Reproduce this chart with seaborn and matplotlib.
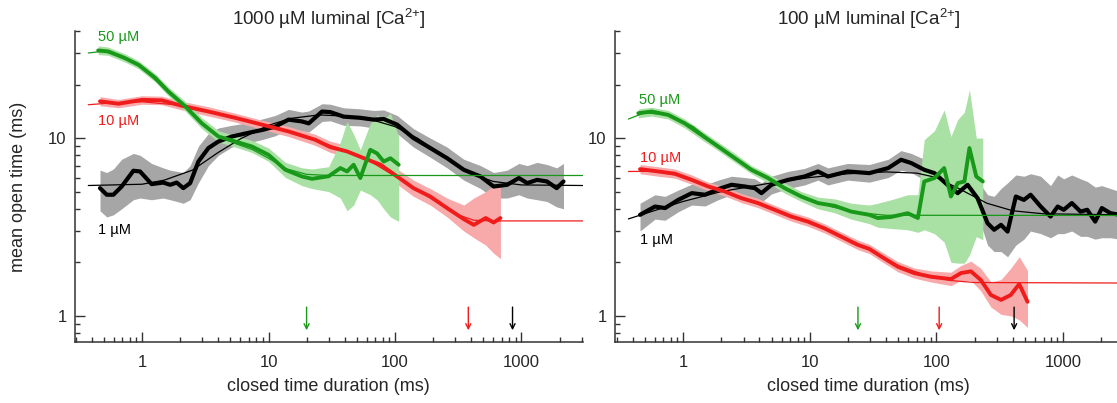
import numpy as np
import pandas as pd
import seaborn as sns
import matplotlib.pyplot as plt
from matplotlib.ticker import FixedLocator, LogLocator, FuncFormatter, NullFormatter

sns.set_style('ticks')
plt.rcParams['font.family'] = ['Liberation Sans', 'DejaVu Sans']
plt.rcParams['mathtext.fontset'] = 'custom'
plt.rcParams['mathtext.rm'] = 'Liberation Sans'
plt.rcParams['mathtext.it'] = 'Liberation Sans:italic'

GREEN = '#18991a'
RED = '#f01c1c'
BLACK = '#000000'
GREEN_BAND = '#a9e0a3'
RED_BAND = '#f8aaaa'
GRAY_BAND = '#a6a6a6'

# ---- 1000 uM luminal Ca (left panel) ----
l_green_x = [0.45, 0.54, 0.73, 0.94, 1.27, 1.61, 2.19, 2.97, 4.02, 5.45, 7.38, 10, 13.6, 18.4, 22.1,
             29.9, 37, 41.8, 47.1, 53.2, 63.8, 72.1, 81.4, 92, 107]
l_green_y = [31.1, 30.7, 28.2, 25.8, 21.8, 18.3, 15.1, 12.1, 10.2, 9.57, 8.97, 8.05, 6.63, 6.08, 5.9,
             6.1, 6.78, 6.49, 7.08, 5.96, 8.59, 8.2, 7.38, 7.7, 7.08]
l_green_lo = [29.5, 29.2, 26.8, 24.5, 20.7, 17.3, 14.2, 11.3, 9.5, 8.9, 8.3, 7.4, 6.0, 5.4, 5.2,
              5.0, 4.6, 3.9, 4.2, 5.1, 4.8, 4.5, 4.0, 3.6, 3.4]
l_green_hi = [33.0, 32.5, 29.8, 27.2, 23.0, 19.4, 16.1, 13.0, 11.0, 10.3, 9.7, 8.8, 7.3, 6.8, 6.7,
              6.9, 9.5, 12.4, 10.5, 8.6, 12.1, 13.5, 12.8, 13.8, 10.2]
l_green_fit_x = [0.376, 0.5, 0.7, 1.0, 1.5, 2.2, 3, 4, 5.5, 7.5, 10, 14, 20, 30, 3050]
l_green_fit_y = [30.1, 30.8, 28.5, 25.0, 19.0, 15.0, 12.0, 10.2, 9.3, 8.6, 7.7, 6.7, 6.25, 6.16, 6.16]

l_red_x = [0.465, 0.65, 1.0, 1.43, 2.06, 3.35, 5.45, 8.87, 14.4, 23.4, 30.8, 41.8, 56.6, 76.9, 104,
           140, 190, 258, 350, 420, 522, 603, 682]
l_red_y = [16.1, 15.6, 16.4, 16.3, 15.2, 14.1, 13.0, 11.9, 10.9, 9.78, 8.9, 8.41, 7.71, 7.08, 6.08,
           5.23, 4.69, 4.04, 3.5, 3.25, 3.55, 3.35, 3.55]
l_red_lo = [15.2, 14.8, 15.5, 15.4, 14.4, 13.3, 12.3, 11.2, 10.2, 9.1, 8.3, 7.8, 7.1, 6.5, 5.5,
            4.7, 4.2, 3.6, 3.0, 2.75, 2.5, 2.25, 2.1]
l_red_hi = [17.1, 16.5, 17.3, 17.2, 16.1, 15.0, 13.8, 12.6, 11.6, 10.5, 9.6, 9.1, 8.4, 7.7, 6.7,
            5.8, 5.2, 4.6, 4.2, 4.6, 5.0, 5.4, 5.6]
l_red_fit_x = [0.376, 0.6, 1, 2, 3.3, 5.5, 9, 14, 23, 40, 60, 100, 150, 200, 300, 420, 600, 3050]
l_red_fit_y = [15.4, 15.8, 16.0, 15.3, 14.2, 13.0, 11.9, 10.9, 9.8, 8.5, 7.6, 6.1, 5.1, 4.5, 3.75,
               3.45, 3.42, 3.42]

l_black_x = [0.465, 0.526, 0.593, 0.69, 0.854, 0.964, 1.19, 1.47, 1.67, 1.88, 2.12, 2.4, 2.79, 3.35,
             4.02, 5.12, 6.93, 8.87, 11.3, 14.4, 18.4, 20.8, 26.5, 30.8, 39.3, 53.2, 67.7, 81.4, 104,
             140, 190, 258, 350, 475, 603, 770, 955, 1110, 1330, 1590, 1900, 2150]
l_black_y = [5.23, 4.8, 4.8, 5.34, 6.55, 6.49, 5.51, 5.62, 5.46, 5.62, 5.23, 5.58, 7.38, 8.79,
             9.57, 10.2, 10.7, 11.1, 11.6, 12.7, 12.4, 12.1, 14.1, 14.0, 13.2, 13.0, 12.7, 12.8, 11.9,
             10.0, 8.79, 7.71, 6.63, 6.08, 5.34, 5.46, 5.96, 5.58, 5.82, 5.7, 5.23, 5.7]
l_black_lo = [3.9, 3.6, 3.7, 4.0, 4.5, 4.6, 4.5, 4.6, 4.5, 4.4, 4.3, 4.5, 5.6, 7.0,
              8.0, 8.9, 9.4, 9.8, 10.3, 11.2, 11.0, 10.8, 12.4, 12.5, 11.8, 11.7, 11.4, 11.4, 10.6,
              8.9, 7.8, 6.8, 5.8, 5.2, 4.6, 4.6, 4.8, 4.6, 4.5, 4.4, 4.1, 4.0]
l_black_hi = [6.6, 6.4, 6.7, 7.6, 8.2, 8.0, 7.2, 6.8, 6.6, 6.5, 6.4, 7.0, 9.0, 10.6,
              11.4, 11.8, 12.2, 12.8, 13.4, 14.5, 14.0, 14.2, 15.6, 15.5, 14.8, 14.6, 14.3, 14.4, 13.4,
              11.3, 10.0, 8.9, 7.6, 7.0, 6.4, 6.6, 7.2, 7.0, 7.3, 7.1, 6.8, 7.2]
l_black_fit_x = [0.376, 1, 1.5, 2.5, 4, 6, 10, 15, 25, 40, 70, 100, 150, 250, 400, 600, 1000, 3050]
l_black_fit_y = [5.41, 5.5, 5.8, 6.6, 8.3, 9.9, 11.8, 12.9, 13.5, 13.3, 12.5, 11.6, 10.0, 7.8, 6.3,
                 5.7, 5.45, 5.41]

l_arrow_x = [20, 380, 850]

# ---- 100 uM luminal Ca (right panel) ----
r_green_x = [0.443, 0.565, 0.763, 1.03, 1.4, 1.89, 2.56, 3.46, 4.68, 6.33, 8.56, 11.6, 15.7, 21.2,
             29.5, 34.4, 43.9, 59.3, 71.3, 80.1, 96.4, 115, 130, 147, 166, 182, 206, 232]
r_green_y = [13.8, 14.1, 13.5, 12.1, 10.4, 8.97, 7.71, 6.63, 5.96, 5.23, 4.69, 4.31, 4.16, 3.86,
             3.7, 3.55, 3.6, 3.78, 3.55, 5.7, 5.96, 6.78, 4.69, 5.58, 5.7, 8.79, 6.08, 5.7]
r_green_lo = [13.0, 13.3, 12.8, 11.4, 9.8, 8.5, 7.3, 6.3, 5.6, 4.9, 4.4, 4.0, 3.8, 3.5,
              3.3, 3.15, 3.1, 3.05, 2.95, 3.05, 2.9, 2.6, 2.0, 1.98, 1.98, 2.2, 2.79, 2.68]
r_green_hi = [14.6, 14.9, 14.3, 12.8, 11.0, 9.5, 8.2, 7.0, 6.3, 5.6, 5.0, 4.65, 4.55, 4.3,
              4.2, 4.3, 4.5, 4.8, 4.8, 9.8, 11.0, 14.4, 10.2, 12.7, 14.0, 18.7, 10.0, 10.0]
r_green_fit_x = [0.37, 0.5, 0.8, 1.2, 2, 3.5, 6, 10, 15, 25, 40, 3000]
r_green_fit_y = [12.8, 13.9, 13.4, 11.6, 8.7, 6.6, 5.3, 4.5, 4.1, 3.8, 3.68, 3.67]

r_red_x = [0.457, 0.636, 0.862, 1.17, 1.58, 2.13, 2.89, 3.9, 5.28, 7.14, 9.66, 13.0, 17.7, 23.9,
           29.5, 36.5, 49.5, 66.8, 90.5, 130, 156, 187, 224, 269, 323, 385, 450, 523]
r_red_y = [6.69, 6.49, 6.3, 5.82, 5.34, 5.01, 4.59, 4.31, 3.95, 3.62, 3.39, 3.11, 2.79, 2.51,
           2.38, 2.16, 1.89, 1.74, 1.66, 1.61, 1.74, 1.78, 1.59, 1.31, 1.23, 1.31, 1.51, 1.2]
r_red_lo = [6.3, 6.1, 5.95, 5.5, 5.05, 4.72, 4.33, 4.06, 3.72, 3.41, 3.19, 2.93, 2.63, 2.36,
            2.24, 2.03, 1.77, 1.63, 1.55, 1.48, 1.58, 1.58, 1.38, 1.12, 1.02, 1.0, 0.95, 0.86]
r_red_hi = [7.1, 6.9, 6.7, 6.2, 5.65, 5.3, 4.87, 4.57, 4.19, 3.84, 3.6, 3.3, 2.96, 2.67,
            2.53, 2.3, 2.02, 1.86, 1.79, 1.76, 1.92, 2.03, 1.85, 1.55, 1.6, 1.85, 2.15, 1.8]
r_red_fit_x = [0.37, 0.6, 1, 1.6, 2.9, 5.3, 9.7, 17.7, 30, 50, 80, 130, 200, 3000]
r_red_fit_y = [6.49, 6.5, 6.1, 5.35, 4.6, 3.95, 3.39, 2.8, 2.35, 1.92, 1.7, 1.58, 1.54, 1.53]

r_black_x = [0.457, 0.6, 0.72, 0.915, 1.17, 1.49, 1.89, 2.41, 3.07, 3.68, 4.15, 4.98, 6.73, 9.09,
             11.6, 13.9, 19.9, 29.5, 41.6, 52.5, 63.1, 80.1, 96.4, 122, 147, 176, 211, 253, 285,
             323, 364, 423, 490, 553, 665, 795, 905, 1010, 1170, 1370, 1550, 1790, 2020, 2360, 2800]
r_black_y = [3.7, 4.12, 4.04, 4.49, 4.9, 4.8, 5.16, 5.46, 5.34, 5.23, 4.9, 5.46, 5.82, 6.08,
             6.49, 6.08, 6.49, 6.35, 6.78, 7.55, 7.24, 6.63, 6.35, 5.46, 4.9, 5.46, 4.59, 3.32, 3.05,
             3.25, 2.98, 4.69, 4.49, 4.8, 4.12, 3.62, 4.12, 3.95, 4.31, 3.86, 3.95, 3.39, 4.04, 3.78, 3.7]
r_black_lo = [3.0, 3.5, 3.45, 3.85, 4.2, 4.15, 4.5, 4.8, 4.75, 4.6, 4.35, 4.85, 5.2, 5.45,
              5.8, 5.45, 5.8, 5.65, 6.0, 6.6, 6.4, 5.8, 5.5, 4.7, 4.2, 4.6, 3.7, 2.5, 2.3,
              2.3, 2.15, 2.5, 2.7, 3.0, 2.9, 2.75, 2.9, 2.9, 3.0, 2.8, 2.8, 2.7, 2.75, 2.75, 2.7]
r_black_hi = [4.3, 4.8, 4.7, 5.1, 5.5, 5.45, 5.8, 6.1, 6.0, 5.9, 5.6, 6.1, 6.5, 6.75,
              7.2, 6.8, 7.2, 7.1, 7.6, 8.5, 8.2, 7.6, 7.3, 6.4, 5.8, 6.5, 5.8, 4.8, 4.7,
              5.2, 5.6, 6.2, 6.1, 6.3, 6.1, 5.4, 6.2, 5.9, 6.2, 5.9, 5.7, 5.3, 5.4, 5.2, 5.0]
r_black_fit_x = [0.37, 1, 2, 5, 10, 20, 40, 70, 100, 150, 250, 400, 700, 3000]
r_black_fit_y = [3.51, 4.4, 5.0, 5.6, 6.0, 6.3, 6.45, 6.35, 6.0, 5.2, 4.3, 3.9, 3.75, 3.7]

r_arrow_x = [24, 105, 410]


def draw_series(ax, x, y, fx, fy, color, lw):
    sns.lineplot(x=x, y=y, ax=ax, color=color, lw=lw, estimator=None, sort=False)
    sns.lineplot(x=fx, y=fy, ax=ax, color=color, lw=0.9, estimator=None, sort=False)


def style_axis(ax, xlim, title):
    ax.set_xscale('log')
    ax.set_yscale('log')
    ax.set_xlim(*xlim)
    ax.set_ylim(0.71, 40)
    ax.xaxis.set_major_locator(FixedLocator([1, 10, 100, 1000]))
    ax.xaxis.set_minor_locator(LogLocator(base=10, subs=np.arange(2, 10), numticks=30))
    ax.yaxis.set_major_locator(FixedLocator([1, 10]))
    ax.yaxis.set_minor_locator(LogLocator(base=10, subs=np.arange(2, 10), numticks=30))
    fmt = FuncFormatter(lambda v, p: f'{v:g}')
    ax.xaxis.set_major_formatter(fmt)
    ax.yaxis.set_major_formatter(fmt)
    ax.xaxis.set_minor_formatter(NullFormatter())
    ax.yaxis.set_minor_formatter(NullFormatter())
    ax.tick_params(which='major', direction='in', length=7, width=1, labelsize=12, color='#333333')
    ax.tick_params(which='minor', direction='in', length=3.5, width=1, color='#333333')
    ax.tick_params(axis='x', which='major', pad=9)
    ax.tick_params(axis='y', which='major', pad=6)
    for s in ['top', 'right']:
        ax.spines[s].set_visible(False)
    for s in ['left', 'bottom']:
        ax.spines[s].set_color('#333333')
        ax.spines[s].set_linewidth(1.1)
    ax.set_title(title, fontsize=13.5, pad=4)
    ax.set_xlabel('closed time duration (ms)', fontsize=13)
    ax.xaxis.set_label_coords(0.5, -0.115)
    ax.set_ylabel('')


fig = plt.figure(figsize=(11.17, 4.03), dpi=100)
ax1 = fig.add_axes([75 / 1117, 0.1506, 507.7 / 1117, 0.7724])
ax2 = fig.add_axes([615 / 1117, 0.1506, 507.7 / 1117, 0.7724])

# left panel
ax1.fill_between(l_black_x, l_black_lo, l_black_hi, color=GRAY_BAND, lw=0)
ax1.fill_between(l_red_x, l_red_lo, l_red_hi, color=RED_BAND, lw=0)
ax1.fill_between(l_green_x, l_green_lo, l_green_hi, color=GREEN_BAND, lw=0)
draw_series(ax1, l_black_x, l_black_y, l_black_fit_x, l_black_fit_y, BLACK, 3.0)
draw_series(ax1, l_red_x, l_red_y, l_red_fit_x, l_red_fit_y, RED, 2.8)
draw_series(ax1, l_green_x, l_green_y, l_green_fit_x, l_green_fit_y, GREEN, 2.8)

# right panel
ax2.fill_between(r_black_x, r_black_lo, r_black_hi, color=GRAY_BAND, lw=0)
ax2.fill_between(r_red_x, r_red_lo, r_red_hi, color=RED_BAND, lw=0)
ax2.fill_between(r_green_x, r_green_lo, r_green_hi, color=GREEN_BAND, lw=0)
draw_series(ax2, r_black_x, r_black_y, r_black_fit_x, r_black_fit_y, BLACK, 3.0)
draw_series(ax2, r_red_x, r_red_y, r_red_fit_x, r_red_fit_y, RED, 2.8)
draw_series(ax2, r_green_x, r_green_y, r_green_fit_x, r_green_fit_y, GREEN, 2.8)

style_axis(ax1, (0.295, 3050), '1000 µM luminal [Ca$^{\\mathregular{2{+}}}$]')
style_axis(ax2, (0.29, 2950), '100 µM luminal [Ca$^{\\mathregular{2{+}}}$]')
ax1.set_ylabel('mean open time (ms)', fontsize=13)
ax1.yaxis.set_label_coords(-0.094, 0.5)

# concentration labels
ax1.text(0.45, 37.2, '50 µM', color=GREEN, fontsize=10.5, va='center')
ax1.text(0.45, 12.5, '10 µM', color=RED, fontsize=10.5, va='center')
ax1.text(0.45, 3.05, '1 µM', color=BLACK, fontsize=10.5, va='center')
ax2.text(0.449, 16.4, '50 µM', color=GREEN, fontsize=10.5, va='center')
ax2.text(0.457, 7.75, '10 µM', color=RED, fontsize=10.5, va='center')
ax2.text(0.457, 2.68, '1 µM', color=BLACK, fontsize=10.5, va='center')

# arrows
for ax, xs in [(ax1, l_arrow_x), (ax2, r_arrow_x)]:
    for xv, c in zip(xs, [GREEN, RED, BLACK]):
        ax.annotate('', xy=(xv, 0.83), xytext=(xv, 1.12),
                    arrowprops=dict(arrowstyle='->', color=c, lw=1,
                                    shrinkA=0, shrinkB=0, mutation_scale=9))

plt.savefig('out.png', dpi=100)
